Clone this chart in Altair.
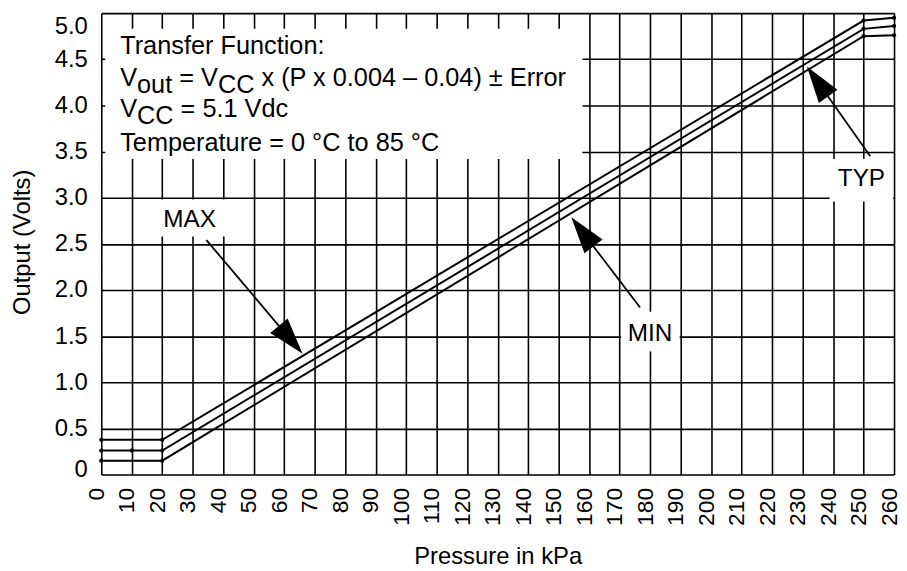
import altair as alt
import pandas as pd

FONT = "Liberation Sans"

# ---------------- data ----------------
pressure_kpa = [0, 10, 20, 250, 260]
out_max = [0.376, 0.376, 0.376, 4.92, 4.95]
out_typ = [0.26, 0.26, 0.26, 4.83, 4.86]
out_min = [0.15, 0.15, 0.15, 4.75, 4.76]
series_names = ["MAX", "TYP", "MIN"]
dot_pressures = {
    "MAX": [0, 20, 250, 260],
    "TYP": [0, 10, 20, 250, 260],
    "MIN": [0, 20, 250, 260],
}

x_ticks = list(range(0, 261, 10))
y_ticks = [0, 0.5, 1.0, 1.5, 2.0, 2.5, 3.0, 3.5, 4.0, 4.5, 5.0]
x_title = "Pressure in kPa"
y_title = "Output (Volts)"

# callout labels and arrows (data units)
ann_text = ["MAX", "MIN", "TYP"]
ann_x = [29.0, 180.0, 249.3]
ann_y = [2.76, 1.52, 3.20]
ann_box_x1 = [15.6, 170.5, 238.9]
ann_box_x2 = [42.6, 189.7, 259.7]
ann_box_y1 = [2.98, 1.763, 3.42]
ann_box_y2 = [2.58, 1.333, 2.96]
arrow_tail_x = [34.5, 176.7, 252.2]
arrow_tail_y = [2.54, 1.81, 3.45]
arrow_head_x = [62.15, 157.8, 234.9]
arrow_head_y = [1.46, 2.63, 4.26]
arrow_angle = [139.9, 322.8, 324.6]

# transfer-function box
info_box_x = [1.3, 157.8]
info_box_y = [4.83, 3.42]
info_x = 6.2
info_line_y = [4.56, 4.215, 3.87, 3.505]
sub_drop = 0.075
info_font = 25.5
# (text, line index, subscript?)
info_segments = [
    ("Transfer Function:", 0, False),
    ("V", 1, False), ("out", 1, True), (" = V", 1, False), ("CC", 1, True),
    (" x (P x 0.004 \u2013 0.04) \u00b1 Error", 1, False),
    ("V", 2, False), ("CC", 2, True), (" = 5.1 Vdc", 2, False),
    ("Temperature = 0 \u00b0C to 85 \u00b0C", 3, False),
]

# ---------------- layout helpers ----------------
PLOT_W, PLOT_H = 799, 465
PX_PER_KPA = PLOT_W / 260.0

ARIAL = {" ": 278, "=": 584, "V": 667, "o": 556, "u": 556, "t": 278, "C": 722}


def text_width(s, size):
    return sum(ARIAL.get(ch, 556) for ch in s) * size / 1000.0


rows = []
cursor = {}
for txt, line, sub in info_segments:
    off = cursor.get(line, 0.0)
    shown = txt.lstrip(" ")
    lead = txt[: len(txt) - len(shown)]
    rows.append({
        "p": info_x + (off + text_width(lead, info_font)) / PX_PER_KPA,
        "v": info_line_y[line] - (sub_drop if sub else 0.0),
        "t": shown,
    })
    cursor[line] = off + text_width(txt, info_font)
info_df = pd.DataFrame(rows)

line_rows = []
for name, vals in zip(series_names, [out_max, out_typ, out_min]):
    for p, v in zip(pressure_kpa, vals):
        line_rows.append({"p": p, "v": v, "series": name})
lines_df = pd.DataFrame(line_rows)

dot_rows = []
for name, vals in zip(series_names, [out_max, out_typ, out_min]):
    lookup = dict(zip(pressure_kpa, vals))
    for p in dot_pressures[name]:
        dot_rows.append({"p": p, "v": lookup[p], "series": name})
dots_df = pd.DataFrame(dot_rows)

ann_df = pd.DataFrame({"p": ann_x, "v": ann_y, "t": ann_text})
ann_box_df = pd.DataFrame({"p": ann_box_x1, "p2": ann_box_x2, "v": ann_box_y1, "v2": ann_box_y2})
info_box_df = pd.DataFrame({"p": [info_box_x[0]], "p2": [info_box_x[1]],
                            "v": [info_box_y[0]], "v2": [info_box_y[1]]})
arrows_df = pd.DataFrame({"p": arrow_tail_x, "v": arrow_tail_y,
                          "p2": arrow_head_x, "v2": arrow_head_y, "ang": arrow_angle})
heads_df = pd.DataFrame({"p": arrow_head_x, "v": arrow_head_y, "ang": arrow_angle})

# ---------------- scales / axes ----------------
xs = alt.Scale(domain=[0, 260], nice=False, zero=False)
ys = alt.Scale(domain=[0, 5], nice=False, zero=False)

x_axis = alt.Axis(
    values=x_ticks, title=x_title, grid=True, ticks=False, tickSize=0, domain=False,
    labelAngle=-90, labelFlush=False, labelOverlap=False, labelBound=False,
    labelPadding=13, labelOffset=-5, labelFontSize=23, labelFont=FONT,
    labelColor="black", titleFont=FONT, titleFontSize=24, titleFontWeight="normal",
    titleColor="black", titleY=90, titleBaseline="alphabetic",
    gridColor="black", gridWidth=1.6, gridOpacity=1,
)
y_axis = alt.Axis(
    values=y_ticks, title=y_title, grid=True, ticks=False, tickSize=0, domain=False,
    labelExpr="datum.value == 0 ? '0' : format(datum.value, '.1f')",
    labelFlush=False, labelOverlap=False, labelBound=False, labelPadding=14,
    labelOffset={"condition": [{"test": "datum.value == 5", "value": 14},
                               {"test": "datum.value == 0", "value": -5}], "value": 0},
    labelFontSize=24, labelFont=FONT, labelColor="black",
    titleFont=FONT, titleFontSize=24, titleFontWeight="normal", titleColor="black",
    titleX=-79, titleY=230.5, titleAngle=270, titleAlign="center", titleBaseline="middle",
    gridColor="black", gridWidth=1.6, gridOpacity=1,
)

X = alt.X("p:Q", scale=xs, axis=x_axis)
Y = alt.Y("v:Q", scale=ys, axis=y_axis)

info_rect = alt.Chart(info_box_df).mark_rect(color="white").encode(
    x=X, x2="p2:Q", y=Y, y2="v2:Q")
ann_rects = alt.Chart(ann_box_df).mark_rect(color="white").encode(
    x=X, x2="p2:Q", y=Y, y2="v2:Q")

lines = alt.Chart(lines_df).mark_line(color="black", strokeWidth=2, clip=False).encode(
    x=X, y=Y, detail="series:N")
dots = alt.Chart(dots_df).mark_circle(color="black", size=18, opacity=1, clip=False).encode(
    x=X, y=Y)

shafts = alt.Chart(arrows_df).mark_rule(color="black", strokeWidth=1.8).encode(
    x=X, y=Y, x2="p2:Q", y2="v2:Q")
heads = alt.Chart(heads_df).mark_point(
    shape="M0,-1L0.62,1L-0.62,1Z", filled=True, color="black", opacity=1,
    size=37 * 37, strokeWidth=0,
).encode(x=X, y=Y, angle=alt.Angle("ang:Q", scale=None))

ann_labels = alt.Chart(ann_df).mark_text(
    font=FONT, fontSize=24.5, color="black", align="center", baseline="middle"
).encode(x=X, y=Y, text="t:N")

info_text = alt.Chart(info_df).mark_text(
    font=FONT, fontSize=info_font, color="black", align="left", baseline="alphabetic"
).encode(x=X, y=Y, text="t:N")

chart = alt.layer(
    info_rect, ann_rects, lines, dots, shafts, heads, ann_labels, info_text
).properties(
    width=PLOT_W, height=PLOT_H,
    autosize=alt.AutoSizeParams(type="none"),
    padding={"left": 94, "top": 3, "right": 5, "bottom": 92},
).configure_view(
    stroke="black", strokeWidth=2.2
).configure(background="white")

chart.save("out.html", embed_options={"renderer": "svg", "actions": False})
